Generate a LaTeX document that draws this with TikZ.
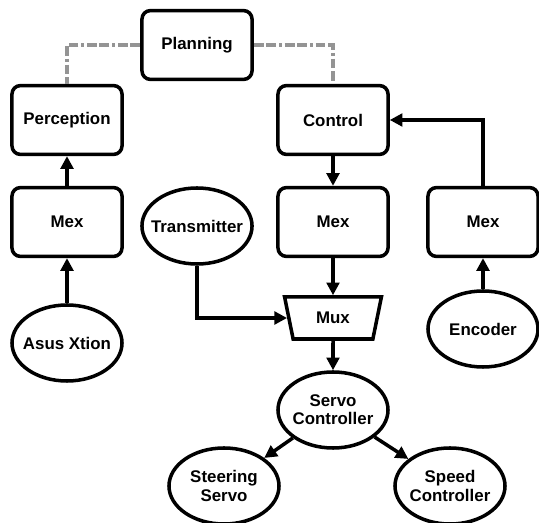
\documentclass[tikz,border=0pt]{standalone}
\usepackage{fontspec}
\setmainfont{Liberation Sans}
\usepackage{tikz}
\usetikzlibrary{shapes.geometric,arrows.meta}

\tikzset{
  block/.style={draw, line width=2.5pt, rounded corners=6pt, minimum width=2.75cm, minimum height=1.72cm},
  blob/.style={draw, ellipse, line width=2.5pt, minimum width=2.75cm, minimum height=1.9cm, align=center, inner xsep=-5pt, inner ysep=0pt},
  flow/.style={-{Triangle[length=9pt,width=9pt]}, line width=2.5pt},
  link/.style={black!42, line width=2.3pt, dash pattern=on 7pt off 2pt on 7pt off 2pt on 2pt off 2pt}
}

\begin{document}
\begin{tikzpicture}[x=0.025cm, y=-0.025cm, font=\fontsize{12}{13}\selectfont\bfseries]
\useasboundingbox (0,0) rectangle (539,523);

% boxes%
\node[block] (plan) at (197,45) {Planning};
\node[block] (perc) at (67,120) {Perception};
\node[block] (ctrl) at (333,120) {Control};
\node[block] (mexA) at (67,222) {Mex};
\node[block] (mexB) at (333,222) {Mex};
\node[block] (mexC) at (483,222) {Mex};

% sensors and actuators%
\node[blob] (tx) at (197,226) {Transmitter};
\node[blob] (xtion) at (67,343) {Asus Xtion};
\node[blob] (enc) at (483,329) {Encoder};
\node[blob] (servo) at (333,410) {Servo\\Controller};
\node[blob] (steer) at (224,486) {Steering\\Servo};
\node[blob] (speed) at (450,486) {Speed\\Controller};

% multiplexer%
\node[draw, trapezium, shape border rotate=180, trapezium angle=68, trapezium stretches body,
      line width=2.5pt, minimum width=2.42cm, minimum height=1.05cm] (mux) at (333,318) {Mux};

% planning links%
\draw[link] (plan.west) -| (perc.north);
\draw[link] (plan.east) -| (ctrl.north);

% data flow%
\draw[flow] (xtion) -- (mexA);
\draw[flow] (mexA) -- (perc);
\draw[flow] (ctrl) -- (mexB);
\draw[flow] (mexB) -- (mux);
\draw[flow] (tx.south) |- (mux.west);
\draw[flow] (mux) -- (servo);
\draw[flow] (enc) -- (mexC);
\draw[flow] (mexC.north) |- (ctrl.east);
\draw[flow] (servo) -- (steer);
\draw[flow] (servo) -- (speed);
\end{tikzpicture}
\end{document}
